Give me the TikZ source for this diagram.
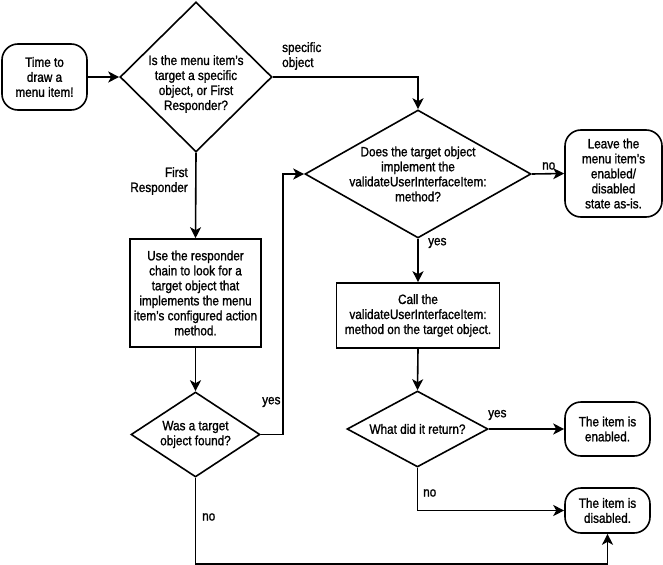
\documentclass[tikz,border=0pt]{standalone}
\usepackage{fontspec}
\setmainfont{Liberation Sans}[FakeStretch=0.87,FakeBold=1.2]
\usetikzlibrary{shapes.geometric,arrows.meta}
\begin{document}
\begin{tikzpicture}[x=1bp,y=-1bp,
  font=\fontsize{13.5bp}{15bp}\selectfont,
  every node/.style={inner sep=0pt, align=center},
  line/.style={line width=1.6bp, draw=black},
  arr/.style={line, -{Stealth[length=11bp,width=11bp,inset=3bp]}},
  term/.style={line, draw, rectangle, rounded corners=16bp, minimum width=#1},
  procbox/.style={line, draw, rectangle},
  dec/.style={line, draw, diamond, minimum width=#1},
  lbl/.style={inner sep=0pt}
]
\useasboundingbox (0,0) rectangle (663,565);

% nodes
\node[term=85bp, minimum height=66bp] (start) at (44.5,77) {Time to\\draw a\\menu item!};
\node[dec=152bp, minimum height=150bp,
  label={[yshift=-7bp]center:{Is the menu item's\\target a specific\\object, or First\\Responder?}}] (d1) at (196,77) {};
\node[procbox, minimum width=131bp, minimum height=108bp] (resp) at (195.5,293)
  {Use the responder\\chain to look for a\\target object that\\implements the menu\\item's configured action\\method.};
\node[dec=129bp, minimum height=85bp,
  label={center:{Was a target\\object found?}}] (d4) at (195.5,434.5) {};
\node[dec=226bp, minimum height=128bp,
  label={center:{Does the target object\\implement the\\validateUserInterfaceItem:\\method?}}] (d2) at (418,174) {};
\node[term=97bp, minimum height=87bp] (leave) at (613.5,173.5)
  {Leave the\\menu item's\\enabled/\\disabled\\state as-is.};
\node[procbox, minimum width=163bp, minimum height=65bp] (call) at (418,315.5)
  {Call the\\validateUserInterfaceItem:\\method on the target object.};
\node[dec=141bp, minimum height=76bp,
  label={center:{What did it return?}}] (d3) at (417.5,429) {};
\node[term=85bp, minimum height=54bp] (enabled) at (607.5,429) {The item is\\enabled.};
\node[term=85bp, minimum height=45bp] (disabled) at (607.5,510.5) {The item is\\disabled.};

% connectors
\draw[arr] (start.east) -- (d1.west);
\draw[arr] (d1.east) -| (d2.north);
\draw[arr] (d1.south) -- (resp.north);
\draw[arr] (resp.south) -- (d4.north);
\draw[arr] (d4.east) -- ++(22,0) |- (d2.west);
\draw[arr] (d4.south) -- ++(0,86) -| (disabled.south);
\draw[arr] (d2.east) -- (leave.west);
\draw[arr] (d2.south) -- (call.north);
\draw[arr] (call.south) -- (d3.north);
\draw[arr] (d3.east) -- (enabled.west);
\draw[arr] (d3.south) |- (disabled.west);

% labels
\node[lbl, anchor=west, align=left] (lspec) at (282,56) {specific\\object};
\node[lbl, anchor=east, align=right] (lfirst) at (188,181) {First\\Responder};
\node[lbl, anchor=west] (lyes4) at (262,402) {yes};
\node[lbl, anchor=west] (lno4) at (202,517) {no};
\node[lbl, anchor=west] (lno2) at (542,166) {no};
\node[lbl, anchor=west] (lyes2) at (428,243) {yes};
\node[lbl, anchor=west] (lyes3) at (488,415) {yes};
\node[lbl, anchor=west] (lno3) at (423,493) {no};
\end{tikzpicture}
\end{document}
